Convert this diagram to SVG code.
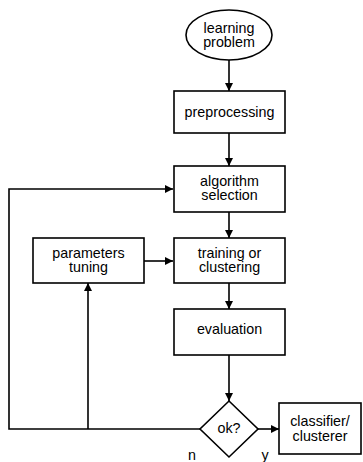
<svg xmlns="http://www.w3.org/2000/svg" width="363" height="462" viewBox="0 0 363 462">
  <style>
    .shape { fill: #ffffff; stroke: #000000; stroke-width: 1.6; }
    .edge { fill: none; stroke: #000000; stroke-width: 1.6; }
    .label { font-family: "Liberation Sans", Arial, sans-serif; font-size: 14.3px; fill: #000000; text-anchor: middle; }
  </style>
  <defs>
    <marker id="arrow" viewBox="0 0 10 10" refX="10" refY="5" markerWidth="8" markerHeight="8" markerUnits="userSpaceOnUse" orient="auto">
      <path d="M0,0 L10,5 L0,10 Z" fill="#000000"/>
    </marker>
  </defs>
  <rect width="363" height="462" fill="#ffffff"/>

  <g id="connectors">
    <line class="edge" x1="229" y1="60" x2="229" y2="91" marker-end="url(#arrow)"/>
    <line class="edge" x1="229" y1="133" x2="229" y2="166" marker-end="url(#arrow)"/>
    <line class="edge" x1="229" y1="212" x2="229" y2="238" marker-end="url(#arrow)"/>
    <line class="edge" x1="229" y1="283" x2="229" y2="309" marker-end="url(#arrow)"/>
    <line class="edge" x1="229" y1="355" x2="229" y2="401" marker-end="url(#arrow)"/>
    <line class="edge" x1="144" y1="261" x2="173" y2="261" marker-end="url(#arrow)"/>
    <polyline class="edge" points="200,429 9,429 9,189 173,189" marker-end="url(#arrow)"/>
    <line class="edge" x1="88" y1="429" x2="88" y2="283" marker-end="url(#arrow)"/>
    <line class="edge" x1="258" y1="429" x2="279" y2="429" marker-end="url(#arrow)"/>
  </g>

  <g id="learning-problem">
    <ellipse class="shape" cx="229" cy="35" rx="43" ry="25"/>
    <text class="label" x="229" y="32.5">learning<tspan x="229" dy="14.5">problem</tspan></text>
  </g>

  <g id="preprocessing">
    <rect class="shape" x="174" y="91" width="111" height="42"/>
    <text class="label" x="229.5" y="116.5">preprocessing</text>
  </g>

  <g id="algorithm-selection">
    <rect class="shape" x="174" y="166" width="111" height="46"/>
    <text class="label" x="229.5" y="185.5">algorithm<tspan x="229.5" dy="14.5">selection</tspan></text>
  </g>

  <g id="training">
    <rect class="shape" x="174" y="238" width="111" height="45"/>
    <text class="label" x="229.5" y="257.5">training or<tspan x="229.5" dy="14.5">clustering</tspan></text>
  </g>

  <g id="parameters-tuning">
    <rect class="shape" x="33" y="238" width="111" height="45"/>
    <text class="label" x="88.5" y="257.5">parameters<tspan x="88.5" dy="14.5">tuning</tspan></text>
  </g>

  <g id="evaluation">
    <rect class="shape" x="174" y="309" width="111" height="46"/>
    <text class="label" x="229.5" y="333.5">evaluation</text>
  </g>

  <g id="ok-decision">
    <polygon class="shape" points="229,401 258,429 229,457 200,429"/>
    <text class="label" x="229" y="433">ok?</text>
    <text class="label" x="192" y="460">n</text>
    <text class="label" x="265" y="460">y</text>
  </g>

  <g id="classifier-clusterer">
    <rect class="shape" x="279" y="403" width="82" height="51"/>
    <text class="label" x="320" y="426">classifier/<tspan x="320" dy="14.5">clusterer</tspan></text>
  </g>
</svg>
